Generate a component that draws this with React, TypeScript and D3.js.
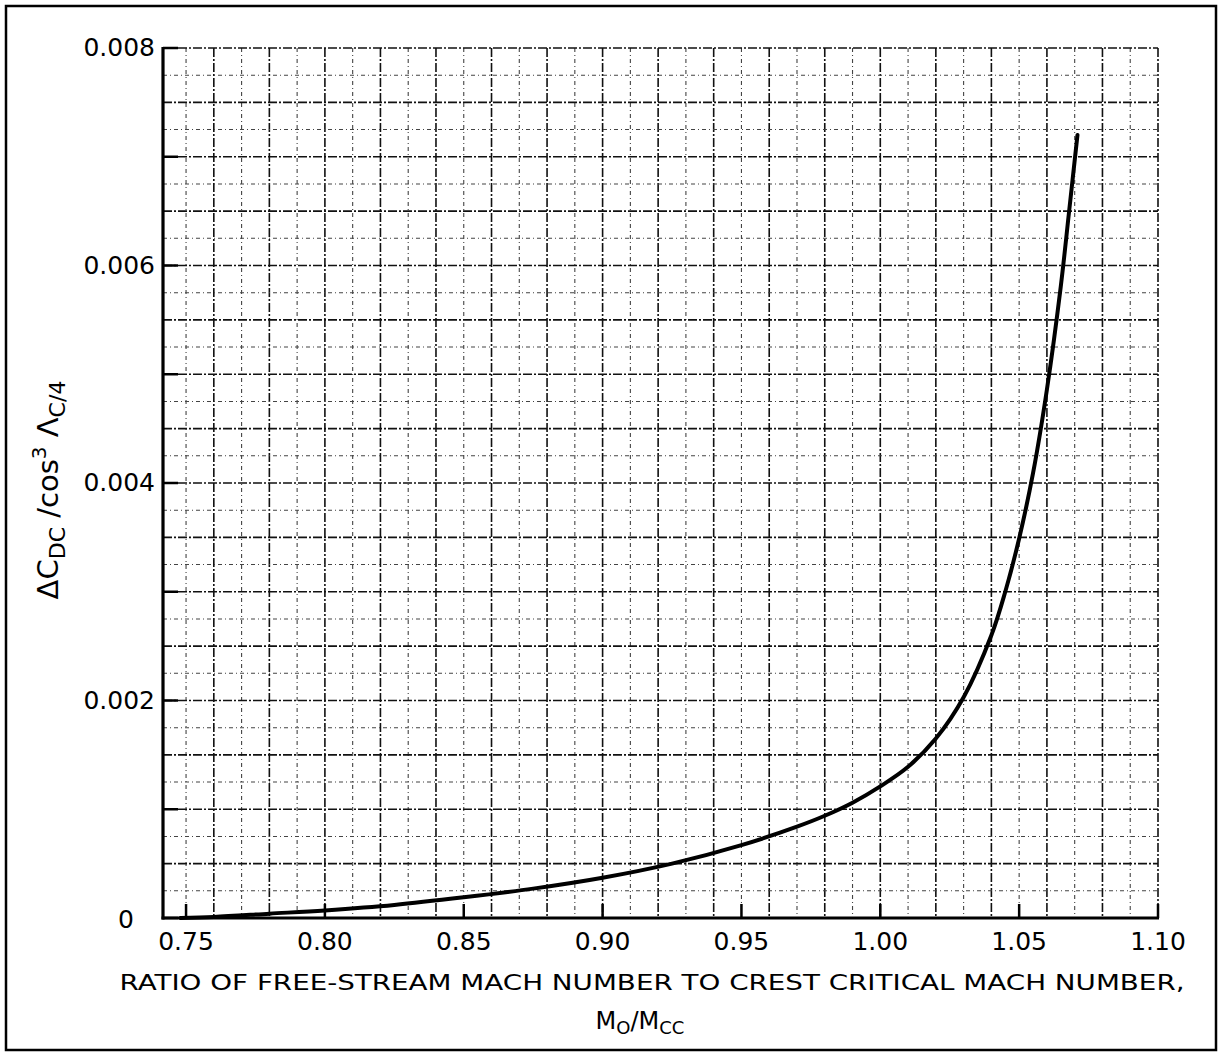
import React from "react";
import * as d3 from "d3";

// Curve: M0/Mcc vs ΔCDC / cos^3 Λc/4
const machRatio = [0.748, 0.76, 0.78, 0.8, 0.825, 0.85, 0.875, 0.9, 0.925, 0.95, 0.97, 0.98, 0.99, 1.0, 1.01, 1.02, 1.03, 1.04, 1.045, 1.05, 1.055, 1.06, 1.065, 1.068, 1.071];
const dragRise = [0, 0.00001, 0.00004, 0.00007, 0.00012, 0.00019, 0.00027, 0.00037, 0.0005, 0.00067, 0.00084, 0.00094, 0.00106, 0.00121, 0.00139, 0.00165, 0.00203, 0.0026, 0.003, 0.00349, 0.00409, 0.00486, 0.00581, 0.0065, 0.0072];

const xTickValues = [0.75, 0.8, 0.85, 0.9, 0.95, 1.0, 1.05, 1.1];
const xTickLabels = ["0.75", "0.80", "0.85", "0.90", "0.95", "1.00", "1.05", "1.10"];
const yTickValues = [0, 0.001, 0.002, 0.003, 0.004, 0.005, 0.006, 0.007, 0.008];
const yLabelValues = [0, 0.002, 0.004, 0.006, 0.008];
const yLabelTexts = ["0", "0.002", "0.004", "0.006", "0.008"];

const xTitle = "RATIO OF FREE-STREAM MACH NUMBER TO CREST CRITICAL MACH NUMBER,";

const FONT = "'DejaVu Sans', sans-serif";

export default function App() {
  const W = 1218, H = 1055;
  const left = 163, right = 1158, top = 48, bottom = 918;
  const x = d3.scaleLinear().domain([0.7417, 1.1]).range([left, right]);
  const y = d3.scaleLinear().domain([0, 0.008]).range([bottom, top]);

  const xGrid = d3.range(75, 111).map((v) => v / 100);
  const yGrid = d3.range(1, 33).map((v) => v * 0.00025);

  const pts = machRatio.map((m, i) => [m, dragRise[i]] as [number, number]);
  const line = d3
    .line<[number, number]>()
    .x((d) => x(d[0]))
    .y((d) => y(d[1]))
    .curve(d3.curveCatmullRom.alpha(0.5));

  return (
    <svg width={W} height={H} style={{ position: "absolute", left: 0, top: 0, background: "#fff" }} fontFamily={FONT}>
      <rect x={0} y={0} width={W} height={H} fill="#fff" />
      {/* outer frame */}
      <rect x={6} y={6} width={1210} height={1044} fill="none" stroke="#000" strokeWidth={2.5} />

      {/* grid */}
      {xGrid.map((v, i) => {
        const major = Math.round(v * 100) % 2 === 0;
        return (
          <line
            key={"xg" + i}
            x1={x(v)}
            x2={x(v)}
            y1={top}
            y2={bottom}
            stroke={major ? "#111" : "#444"}
            strokeWidth={major ? 1.6 : 1.1}
            strokeDasharray={major ? "9,2,2,2" : "4,3,1,3"}
          />
        );
      })}
      {yGrid.map((v, i) => {
        const major = (i + 1) % 2 === 0;
        return (
          <line
            key={"yg" + i}
            x1={left}
            x2={right}
            y1={y(v)}
            y2={y(v)}
            stroke={major ? "#111" : "#444"}
            strokeWidth={major ? 1.6 : 1.1}
            strokeDasharray={major ? "9,2,2,2" : "4,3,1,3"}
          />
        );
      })}

      {/* axes */}
      <line x1={left} x2={left} y1={top - 1} y2={bottom + 1.5} stroke="#000" strokeWidth={3.2} />
      <line x1={left - 1.5} x2={right + 1} y1={bottom} y2={bottom} stroke="#000" strokeWidth={3.2} />
      {yTickValues.map((v, i) => (
        <line key={"yt" + i} x1={left} x2={left + 15} y1={y(v)} y2={y(v)} stroke="#000" strokeWidth={2.5} />
      ))}
      {xTickValues.map((v, i) => (
        <line key={"xt" + i} x1={x(v)} x2={x(v)} y1={bottom} y2={bottom - 14} stroke="#000" strokeWidth={2.5} />
      ))}

      {/* curve */}
      <path d={line(pts) || ""} fill="none" stroke="#000" strokeWidth={4} strokeLinecap="round" />

      {/* tick labels */}
      {xTickValues.map((v, i) => (
        <text key={"xl" + i} x={x(v)} y={950} textAnchor="middle" fontSize={25} fill="#000">
          {xTickLabels[i]}
        </text>
      ))}
      {yLabelValues.map((v, i) => (
        <text
          key={"yl" + i}
          x={v === 0 ? 134 : 155}
          y={y(v) + (v === 0 ? 10 : 8)}
          textAnchor="end"
          fontSize={25}
          fill="#000"
        >
          {yLabelTexts[i]}
        </text>
      ))}

      {/* x title */}
      <text x={652} y={990} textAnchor="middle" fontSize={22} textLength={1065} lengthAdjust="spacingAndGlyphs" fill="#000">
        {xTitle}
      </text>
      <text x={640} y={1029} textAnchor="middle" fontSize={24} fill="#000">
        <tspan>M</tspan>
        <tspan fontSize={18} dy={5}>O</tspan>
        <tspan dy={-5}>/M</tspan>
        <tspan fontSize={18} dy={5}>CC</tspan>
      </text>

      {/* y title */}
      <text transform="translate(58,490) rotate(-90)" textAnchor="middle" fontSize={29} fill="#000">
        <tspan>ΔC</tspan>
        <tspan fontSize={22} dy={7}>DC</tspan>
        <tspan dy={-7}> /cos</tspan>
        <tspan fontSize={20} dy={-12}>3</tspan>
        <tspan dy={12}> Λ</tspan>
        <tspan fontSize={22} dy={7}>C/4</tspan>
      </text>
    </svg>
  );
}
